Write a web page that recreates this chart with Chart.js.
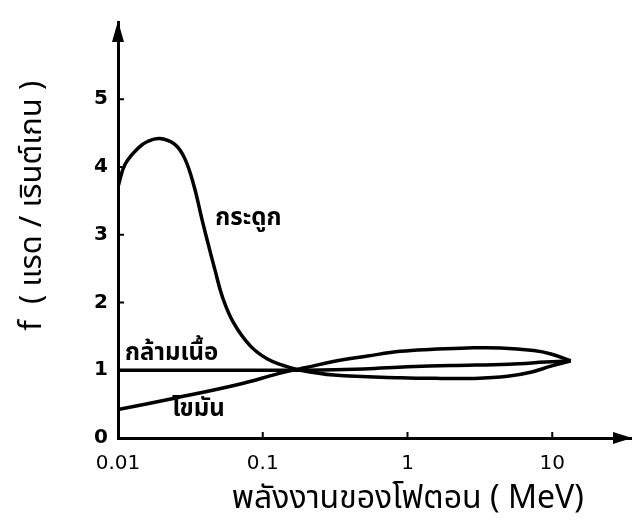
<!DOCTYPE html>
<html>
<head>
<meta charset="utf-8">
<title>f factor</title>
<script src="https://cdn.jsdelivr.net/npm/chart.js@4"></script>
<style>
  html, body { margin: 0; padding: 0; background: #fff; }
  #wrap { width: 632px; height: 527px; }
</style>
</head>
<body>
<div id="wrap"><canvas id="myChart" width="632" height="527"></canvas></div>
<script>
'use strict';

//********************* Data *************************/

let xTicks = [0.01, 0.1, 1, 10];
let xTickLabels = ['0.01', '0.1', '1', '10'];
let yTicks = [0, 1, 2, 3, 4, 5];

// bone (กระดูก)
let boneEnergy = [0.01, 0.0112, 0.0138, 0.0161, 0.0195, 0.0248, 0.029, 0.0335, 0.0381, 0.0433, 0.0469, 0.0525, 0.0625, 0.082, 0.107, 0.139, 0.173, 0.31, 0.9, 1.7, 2.9, 4.9, 7.1, 9.8, 13.4];
let boneF = [3.71, 4.04, 4.28, 4.38, 4.42, 4.33, 4.12, 3.72, 3.22, 2.75, 2.47, 2.09, 1.71, 1.36, 1.17, 1.07, 1.01, 0.93, 0.89, 0.88, 0.88, 0.91, 0.97, 1.06, 1.14];

// muscle (กล้ามเนื้อ)
let muscleEnergy = [0.01, 0.1, 0.2, 0.5, 1, 2, 5, 9, 13.4];
let muscleF = [1.0, 1.0, 1.0, 1.02, 1.05, 1.07, 1.09, 1.12, 1.14];

// fat (ไขมัน)
let fatEnergy = [0.01, 0.0236, 0.0677, 0.128, 0.16, 0.2, 0.307, 0.53, 0.895, 1.51, 2.6, 4.4, 7.45, 9.8, 13.4];
let fatF = [0.42, 0.58, 0.79, 0.95, 1.0, 1.04, 1.13, 1.21, 1.28, 1.31, 1.33, 1.33, 1.29, 1.24, 1.14];

let curveNames = ['กระดูก', 'กล้ามเนื้อ', 'ไขมัน'];

//********************** Helpers ****************************/

function toPoints(xs, ys) {
  let pts = [];
  for (let i = 0; i < xs.length; i++) {
    pts.push({ x: xs[i], y: ys[i] });
  }
  return pts;
}

// where each curve name sits, in data units
let curveLabels = [
  { text: curveNames[0], x: 0.047, y: 3.22 },
  { text: curveNames[1], x: 0.0112, y: 1.22 },
  { text: curveNames[2], x: 0.0236, y: 0.4 }
];

let thaiFont = '"Noto Sans Thai", "Noto Sans", "DejaVu Sans", sans-serif';

//********************** Plugins *********************/

let axisDecor = {
  id: 'axisDecor',
  afterDraw(chart) {
    let c = chart.ctx;
    let area = chart.chartArea;
    let xs = chart.scales.x;
    let ys = chart.scales.y;
    c.save();
    c.fillStyle = '#000';
    c.strokeStyle = '#000';
    c.lineWidth = 2;

    // small inward ticks
    xTicks.forEach(function(v) {
      if (v === xTicks[0]) return;
      let px = xs.getPixelForValue(v);
      c.beginPath();
      c.moveTo(px, area.bottom);
      c.lineTo(px, area.bottom - 6);
      c.stroke();
    });
    yTicks.forEach(function(v) {
      if (v === 0) return;
      let py = ys.getPixelForValue(v);
      c.beginPath();
      c.moveTo(area.left, py);
      c.lineTo(area.left + 6, py);
      c.stroke();
    });

    // arrow heads
    c.beginPath();
    c.moveTo(area.left, area.top - 1);
    c.lineTo(area.left - 6, area.top + 20);
    c.lineTo(area.left + 6, area.top + 20);
    c.closePath();
    c.fill();

    c.beginPath();
    c.moveTo(area.right + 1, area.bottom);
    c.lineTo(area.right - 18, area.bottom - 6);
    c.lineTo(area.right - 18, area.bottom + 6);
    c.closePath();
    c.fill();

    // curve names
    c.font = 'bold 24px ' + thaiFont;
    c.textAlign = 'left';
    c.textBaseline = 'middle';
    curveLabels.forEach(function(l) {
      c.fillText(l.text, xs.getPixelForValue(l.x), ys.getPixelForValue(l.y));
    });
    c.restore();
  }
};

//********************** Chart ****************************/

const ctx = document.getElementById('myChart').getContext('2d');

function lineSet(label, xs, ys) {
  return {
    label: label,
    data: toPoints(xs, ys),
    borderColor: '#000',
    borderWidth: 3.5,
    pointRadius: 0,
    fill: false,
    tension: 0.4
  };
}

const myChart = new Chart(ctx, {
  type: 'line',
  data: {
    datasets: [
      lineSet(curveNames[0], boneEnergy, boneF),
      lineSet(curveNames[1], muscleEnergy, muscleF),
      lineSet(curveNames[2], fatEnergy, fatF)
    ]
  },
  options: {
    responsive: false,
    animation: false,
    layout: { padding: { left: 0, top: 3, right: 1, bottom: 0 } },
    plugins: {
      legend: { display: false },
      tooltip: { enabled: false }
    },
    scales: {
      x: {
        type: 'logarithmic',
        min: 0.01,
        max: 35,
        grid: { display: false, drawTicks: false },
        border: { color: '#000', width: 3 },
        afterBuildTicks: function(scale) {
          scale.ticks = xTicks.map(function(v) { return { value: v }; });
        },
        afterFit: function(scale) { scale.height = 89; },
        ticks: {
          color: '#000',
          padding: 14,
          maxRotation: 0,
          autoSkip: false,
          font: { family: '"DejaVu Sans", sans-serif', size: 20 },
          callback: function(value) {
            let i = xTicks.indexOf(value);
            return i >= 0 ? xTickLabels[i] : '';
          }
        },
        title: {
          display: true,
          text: '        พลังงานของโฟตอน ( MeV)',
          color: '#000',
          padding: { top: 0, bottom: 6 },
          font: { family: thaiFont, size: 32 }
        }
      },
      y: {
        min: 0,
        max: 6.14,
        grid: { display: false, drawTicks: false },
        border: { color: '#000', width: 3 },
        afterBuildTicks: function(scale) {
          scale.ticks = yTicks.map(function(v) { return { value: v }; });
        },
        afterFit: function(scale) { scale.width = 118; },
        ticks: {
          color: '#000',
          padding: 10,
          font: { family: '"DejaVu Sans", sans-serif', size: 20, weight: 'bold' }
        },
        title: {
          display: true,
          text: '      f  ( แรด / เรินต์เกน )',
          color: '#000',
          padding: { top: 16, bottom: 0 },
          font: { family: thaiFont, size: 31 }
        }
      }
    }
  },
  plugins: [axisDecor]
});
</script>
</body>
</html>
